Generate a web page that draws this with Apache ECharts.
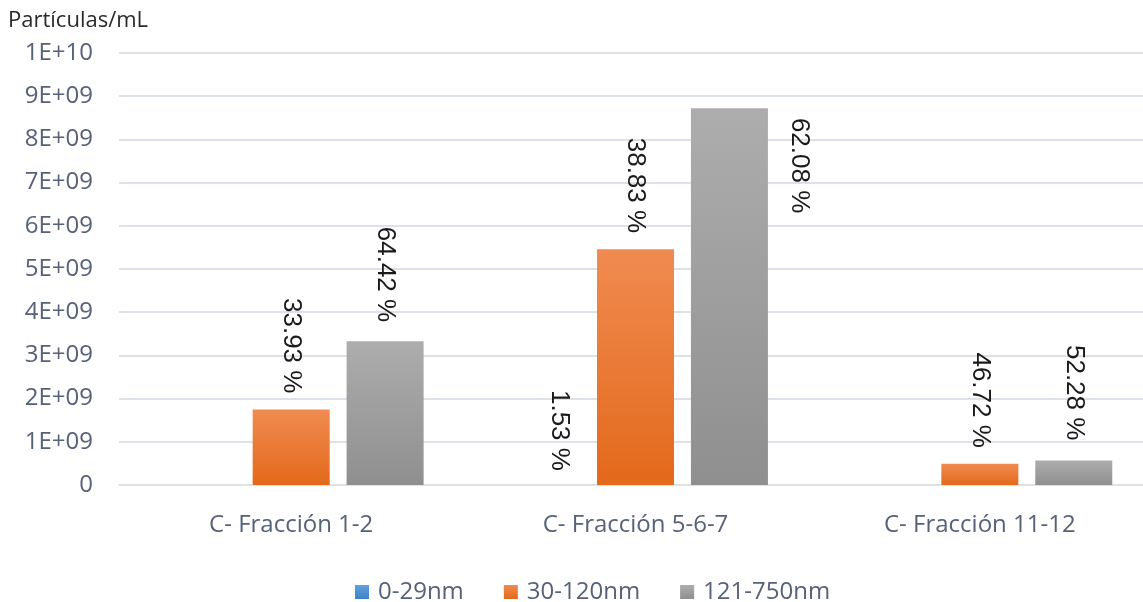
<!DOCTYPE html>
<html>
<head>
<meta charset="utf-8">
<script src="https://cdn.jsdelivr.net/npm/echarts@6/dist/echarts.min.js"></script>
<style>
  html, body { margin: 0; padding: 0; background: #ffffff; overflow: hidden; }
  #chart { width: 1160px; height: 602px; }
</style>
</head>
<body>
<div id="chart"></div>
<script>
// Fractions analysed and particle concentration per size range
const categories = ['C- Fracción 1-2', 'C- Fracción 5-6-7', 'C- Fracción 11-12'];
const seriesNames = ['0-29nm', '30-120nm', '121-750nm'];

// Particles per mL
const values_0_29 = [1e6, 2e6, 1e6];
const values_30_120 = [1.75e9, 5.46e9, 0.49e9];
const values_121_750 = [3.33e9, 8.72e9, 0.57e9];

// Share of each size range within its fraction (%), null = no label
const pct_0_29 = [null, 1.53, null];
const pct_30_120 = [33.93, 38.83, 46.72];
const pct_121_750 = [64.42, 62.08, 52.28];

// Y axis tick labels
const yTickLabels = ['0', '1E+09', '2E+09', '3E+09', '4E+09', '5E+09', '6E+09', '7E+09', '8E+09', '9E+09', '1E+10'];

const axisColor = '#566278';
const gridColor = '#dde1e8';

function grad(top, bottom) {
  return new echarts.graphic.LinearGradient(0, 0, 0, 1, [
    { offset: 0, color: top },
    { offset: 1, color: bottom }
  ]);
}

const colors = [
  grad('#62a2dc', '#3d80c6'),
  grad('#f08b50', '#e3691b'),
  grad('#adadad', '#8f8f8f')
];

const baseLabel = {
  show: true,
  position: 'top',
  rotate: -90,
  align: 'right',
  verticalAlign: 'middle',
  distance: 16,
  fontFamily: 'Liberation Sans, Arial, sans-serif',
  fontSize: 26,
  color: '#1a1a1a'
};

// Label placement tweaks per bar (index within series)
const labelTweaks = {
  0: { 1: { offset: [0, -18], distance: 14 } },
  2: { 0: { distance: 19 }, 1: { offset: [121, -70] }, 2: { distance: 20 } }
};

function buildData(vals, pcts, si) {
  return vals.map((v, i) => {
    const item = { value: v };
    if (pcts[i] == null) {
      item.label = { show: false };
    } else {
      const t = (labelTweaks[si] && labelTweaks[si][i]) || {};
      item.label = Object.assign({}, baseLabel, t, {
        formatter: pcts[i].toFixed(2) + ' %'
      });
    }
    return item;
  });
}

const valueSets = [values_0_29, values_30_120, values_121_750];
const pctSets = [pct_0_29, pct_30_120, pct_121_750];

const chart = echarts.init(document.getElementById('chart'), null, { renderer: 'canvas' });

chart.setOption({
  animation: false,
  backgroundColor: '#ffffff',
  title: {
    text: 'Partículas/mL',
    left: 3,
    top: 5,
    textStyle: {
      fontFamily: 'Open Sans, sans-serif',
      fontSize: 22,
      fontWeight: 'normal',
      color: '#2b2b2b'
    }
  },
  legend: {
    top: 575,
    left: 350,
    itemWidth: 14,
    itemHeight: 14,
    itemGap: 40,
    icon: 'rect',
    data: seriesNames,
    textStyle: {
      fontFamily: 'Open Sans, sans-serif',
      fontSize: 24,
      color: axisColor,
      padding: [0, 0, 0, 4]
    }
  },
  grid: {
    left: 119,
    top: 53,
    right: 8,
    bottom: 117,
    containLabel: false
  },
  xAxis: {
    type: 'category',
    data: categories,
    axisTick: { show: false },
    axisLine: { show: true, lineStyle: { color: gridColor, width: 2 } },
    axisLabel: {
      margin: 28,
      fontFamily: 'Open Sans, sans-serif',
      fontSize: 24,
      color: axisColor
    }
  },
  yAxis: {
    type: 'value',
    min: 0,
    max: 1e10,
    interval: 1e9,
    axisLine: { show: false },
    axisTick: { show: false },
    splitLine: { lineStyle: { color: gridColor, width: 2 } },
    axisLabel: {
      margin: 26,
      fontFamily: 'Open Sans, sans-serif',
      fontSize: 24,
      color: axisColor,
      formatter: (v) => yTickLabels[Math.round(v / 1e9)]
    }
  },
  series: seriesNames.map((name, si) => ({
    name: name,
    type: 'bar',
    barWidth: 77,
    barGap: '22%',
    itemStyle: { color: colors[si] },
    data: buildData(valueSets[si], pctSets[si], si)
  }))
});
</script>
</body>
</html>
